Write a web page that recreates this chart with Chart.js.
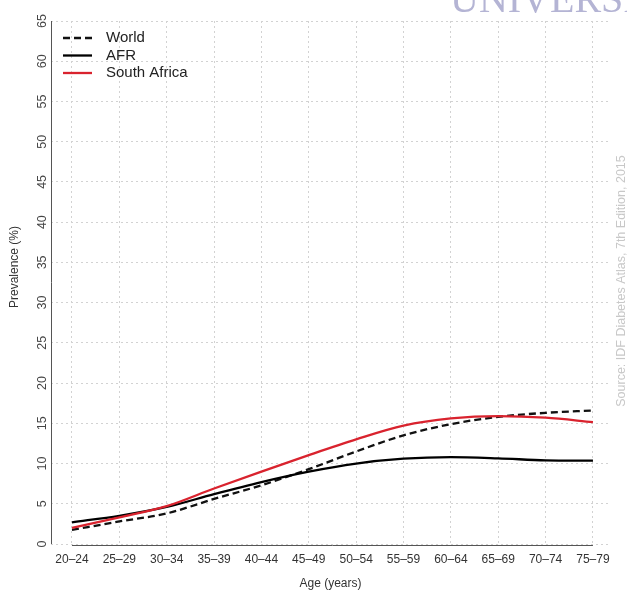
<!DOCTYPE html>
<html lang="en">
<head>
    <meta charset="UTF-8">
    <title>Diabetes prevalence by age</title>
    <script src="https://cdn.jsdelivr.net/npm/chart.js"></script>
    <style>
        html, body { margin: 0; padding: 0; background: #fff; }
        .chart-container { position: relative; width: 627px; height: 591px; }
    </style>
</head>
<body>
    <div class="chart-container">
        <canvas id="chart"></canvas>
    </div>
    <script>
        // Data
        const ageGroups = ['20–24', '25–29', '30–34', '35–39', '40–44', '45–49',
                           '50–54', '55–59', '60–64', '65–69', '70–74', '75–79'];
        const worldValues = [1.75, 2.8, 3.8, 5.6, 7.3, 9.3, 11.5, 13.5, 14.9, 15.8, 16.3, 16.6];
        const afrValues = [2.7, 3.5, 4.6, 6.2, 7.7, 9.0, 10.0, 10.6, 10.8, 10.65, 10.4, 10.35];
        const southAfricaValues = [2.0, 3.3, 4.7, 6.9, 9.0, 11.05, 13.0, 14.7, 15.6, 15.9, 15.7, 15.15];
        const yTicks = { min: 0, max: 65, step: 5 };

        const FONT = '"Liberation Sans", Arial, sans-serif';

        function toPoints(values) {
            return values.map((v, i) => ({ x: i, y: v }));
        }

        // Axis lines, axis title, legend and side texts drawn on top
        const extras = {
            id: 'extras',
            afterDraw(chart) {
                const ctx = chart.ctx;
                const x = chart.scales.x;
                const y = chart.scales.y;
                ctx.save();

                // axis lines (only over the data range, like R)
                ctx.strokeStyle = '#555';
                ctx.lineWidth = 1;
                ctx.beginPath();
                ctx.moveTo(chart.chartArea.left + 0.5, y.getPixelForValue(yTicks.max));
                ctx.lineTo(chart.chartArea.left + 0.5, y.getPixelForValue(yTicks.min));
                const xb = Math.round(y.getPixelForValue(0)) + 1.5;
                ctx.moveTo(x.getPixelForValue(0), xb);
                ctx.lineTo(x.getPixelForValue(ageGroups.length - 1), xb);
                ctx.stroke();

                // y axis title, a bit above the middle as in the original
                ctx.save();
                ctx.translate(15, 267);
                ctx.rotate(-Math.PI / 2);
                ctx.font = '12px ' + FONT;
                ctx.fillStyle = '#333';
                ctx.textAlign = 'center';
                ctx.textBaseline = 'middle';
                ctx.fillText('Prevalence (%)', 0, 0);
                ctx.restore();

                // legend in the top left corner
                ctx.font = '15px ' + FONT;
                ctx.textBaseline = 'middle';
                ctx.textAlign = 'left';
                chart.data.datasets.forEach((ds, i) => {
                    const ly = 38 + i * 17.5;
                    ctx.strokeStyle = ds.borderColor;
                    ctx.lineWidth = ds.borderWidth;
                    ctx.setLineDash(ds.borderDash || []);
                    ctx.beginPath();
                    ctx.moveTo(63, ly);
                    ctx.lineTo(92, ly);
                    ctx.stroke();
                    ctx.setLineDash([]);
                    ctx.fillStyle = '#222';
                    ctx.fillText(ds.label, 106, ly);
                });

                // source note, rotated on the right
                ctx.save();
                ctx.translate(622, 281);
                ctx.rotate(-Math.PI / 2);
                ctx.font = '12.5px ' + FONT;
                ctx.fillStyle = '#c8c8c8';
                ctx.textAlign = 'center';
                ctx.textBaseline = 'middle';
                ctx.fillText('Source: IDF Diabetes Atlas, 7th Edition, 2015', 0, 0);
                ctx.restore();

                // cut-off watermark at the top right
                ctx.font = '40px "Liberation Serif", "Times New Roman", serif';
                ctx.fillStyle = '#b4b4d4';
                ctx.textAlign = 'left';
                ctx.textBaseline = 'alphabetic';
                ctx.fillText('UNIVERSITY', 450, 12);

                ctx.restore();
            }
        };

        const ctx = document.getElementById('chart').getContext('2d');
        const chart = new Chart(ctx, {
            type: 'line',
            data: {
                datasets: [
                    {
                        label: 'World',
                        data: toPoints(worldValues),
                        borderColor: '#111',
                        borderWidth: 2.3,
                        borderDash: [7, 4],
                        order: 3
                    },
                    {
                        label: 'AFR',
                        data: toPoints(afrValues),
                        borderColor: '#000',
                        borderWidth: 2.3,
                        order: 2
                    },
                    {
                        label: 'South Africa',
                        data: toPoints(southAfricaValues),
                        borderColor: '#d9232e',
                        borderWidth: 2.3,
                        order: 1
                    }
                ]
            },
            options: {
                responsive: true,
                maintainAspectRatio: false,
                animation: false,
                layout: { padding: { top: 21, right: 17, left: 0, bottom: 0 } },
                elements: {
                    point: { radius: 0 },
                    line: { cubicInterpolationMode: 'monotone', fill: false }
                },
                plugins: {
                    legend: { display: false },
                    tooltip: { enabled: false }
                },
                scales: {
                    x: {
                        type: 'linear',
                        min: -0.443,
                        max: 11.36,
                        afterFit(scale) { scale.height = 47; },
                        ticks: {
                            stepSize: 1,
                            includeBounds: false,
                            autoSkip: false,
                            maxRotation: 0,
                            padding: 8,
                            color: '#333',
                            font: { family: FONT, size: 12 },
                            callback: (v) => Number.isInteger(v) ? ageGroups[v] : ''
                        },
                        grid: { color: '#d2d2d2', drawTicks: false, lineWidth: 1 },
                        border: { display: false, dash: [2, 3] },
                        title: {
                            display: true,
                            text: 'Age (years)',
                            color: '#333',
                            padding: 0,
                            font: { family: FONT, size: 12 }
                        }
                    },
                    y: {
                        min: yTicks.min,
                        max: yTicks.max,
                        afterFit(scale) { scale.width = 51; },
                        ticks: {
                            stepSize: yTicks.step,
                            minRotation: 90,
                            maxRotation: 90,
                            crossAlign: 'center',
                            padding: 2,
                            color: '#444',
                            font: { family: FONT, size: 12.5 }
                        },
                        grid: { color: '#d2d2d2', drawTicks: false, lineWidth: 1 },
                        border: { display: false, dash: [2, 3] }
                    }
                }
            },
            plugins: [extras]
        });
    </script>
</body>
</html>
